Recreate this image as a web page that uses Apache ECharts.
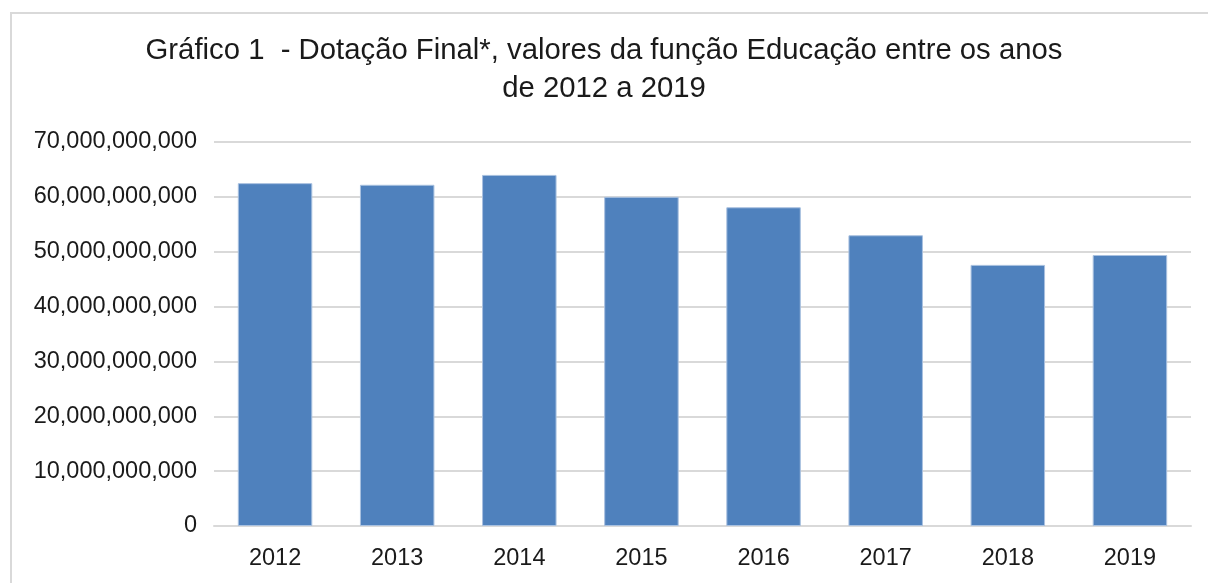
<!DOCTYPE html>
<html>
<head>
    <meta charset="UTF-8" />
    <script src="https://cdn.jsdelivr.net/npm/echarts@6/dist/echarts.min.js"></script>
    <style>
        html, body { margin: 0; padding: 0; background: #fff; overflow: hidden; }
        #frame { position: absolute; left: 10px; top: 12px; width: 1300px; height: 700px;
                 border: 2px solid #d9d9d9; box-sizing: border-box; }
        #chart { position: absolute; left: 0; top: 0; width: 1208px; height: 583px; }
    </style>
</head>
<body>
    <div id="frame"></div>
    <div id="chart"></div>

    <script type="text/javascript">
        // dados
        var anos = ['2012', '2013', '2014', '2015', '2016', '2017', '2018', '2019'];
        var dotacao = [62.5e9, 62.2e9, 64.0e9, 60.0e9, 58.1e9, 53.0e9, 47.6e9, 49.4e9];
        var tituloLinha1 = 'Gráfico 1  - Dotação Final*, valores da função Educação entre os anos';
        var tituloLinha2 = 'de 2012 a 2019';

        var chart = echarts.init(document.getElementById('chart'));
        var fonte = '"Liberation Sans", Arial, sans-serif';

        var option = {
            animation: false,
            title: [{
                text: tituloLinha1,
                left: 'center',
                top: 36,
                padding: 0,
                textStyle: { fontFamily: fonte, fontSize: 29.3, fontWeight: 'normal', color: '#1a1a1a' }
            }, {
                text: tituloLinha2,
                left: 'center',
                top: 74,
                padding: 0,
                textStyle: { fontFamily: fonte, fontSize: 29.3, fontWeight: 'normal', color: '#1a1a1a' }
            }],
            grid: {
                left: 214,
                right: 17,
                top: 142,
                bottom: 57
            },
            xAxis: {
                type: 'category',
                data: anos,
                axisLine: { lineStyle: { color: '#d9d9d9', width: 2 } },
                axisTick: { show: false },
                axisLabel: { fontFamily: fonte, fontSize: 23.5, color: '#1a1a1a', margin: 21 }
            },
            yAxis: {
                type: 'value',
                min: 0,
                max: 70e9,
                interval: 10e9,
                axisLine: { show: false },
                axisTick: { show: false },
                splitLine: { lineStyle: { color: '#d9d9d9', width: 2 } },
                axisLabel: {
                    fontFamily: fonte, fontSize: 23.5, color: '#1a1a1a', margin: 17,
                    formatter: function (v) {
                        return String(Math.round(v)).replace(/\B(?=(\d{3})+(?!\d))/g, ',');
                    }
                }
            },
            series: [{
                type: 'bar',
                data: dotacao,
                barCategoryGap: '39%',
                itemStyle: { color: '#4f81bd', borderColor: '#a9c1e0', borderWidth: 1 }
            }]
        };

        chart.setOption(option);
    </script>
</body>
</html>
